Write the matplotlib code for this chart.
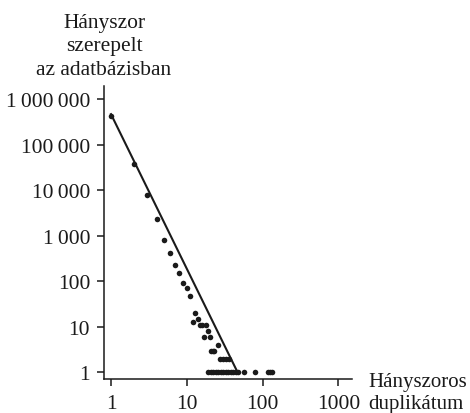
import matplotlib
matplotlib.use("Agg")
import matplotlib.pyplot as plt
import numpy as np

# how many times a record is duplicated -> how many records had that count
dup_x = [1, 2, 3, 4, 5, 6, 7, 8, 9, 10, 11,
         12, 13, 14, 15, 16, 18, 17, 20, 19,
         21, 22, 23, 26, 27, 30, 33, 36,
         19, 21, 22, 24, 26, 28, 30, 33, 35, 38, 41, 45, 47, 57, 79, 118, 127, 133]
dup_y = [440000, 38000, 8000, 2300, 820, 420, 230, 150, 90, 70, 48,
         13, 20, 15, 11, 11, 11, 6, 6, 8,
         3, 3, 3, 4, 2, 2, 2, 2,
         1, 1, 1, 1, 1, 1, 1, 1, 1, 1, 1, 1, 1, 1, 1, 1, 1, 1]

# power-law fit drawn as a straight line
fit_c = 475000
fit_k = -3.4
fit_x = [1, 46]

x_ticks = [1, 10, 100, 1000]
x_ticklabels = ["1", "10", "100", "1000"]
y_ticks = [1, 10, 100, 1000, 10000, 100000, 1000000]
y_ticklabels = ["1", "10", "100", "1\u2009000", "10\u2009000", "100\u2009000", "1\u2009000\u2009000"]

plt.rcParams["font.family"] = ["Liberation Serif", "DejaVu Serif"]
plt.rcParams["font.size"] = 15.5

fig = plt.figure(figsize=(4.7, 4.14), dpi=100)
ax = fig.add_axes([0.2213, 0.0814, 0.527, 0.709])

fx = np.array(fit_x, dtype=float)
ax.plot(fx, fit_c * fx ** fit_k, color="#1a1a1a", lw=1.5, zorder=2)
ax.plot(dup_x, dup_y, "o", color="#1a1a1a", ms=4.0, mew=0, zorder=3)

ax.set_xscale("log")
ax.set_yscale("log")
ax.set_xlim(0.809, 1496)
ax.set_ylim(0.70, 2.0e6)

ax.set_xticks(x_ticks)
ax.set_xticklabels(x_ticklabels)
ax.set_yticks(y_ticks)
ax.set_yticklabels(y_ticklabels)
ax.minorticks_off()

for s in ["top", "right"]:
    ax.spines[s].set_visible(False)
for s in ["left", "bottom"]:
    ax.spines[s].set_linewidth(1.1)
    ax.spines[s].set_color("#1a1a1a")
ax.tick_params(axis="both", length=5, width=1.1, color="#1a1a1a", labelcolor="#1a1a1a")
ax.tick_params(axis="y", pad=5)
ax.tick_params(axis="x", pad=5.5)

fig.text(104 / 470, 1 - 14 / 414, "Hányszor\nszerepelt\naz adatbázisban",
         ha="center", va="top", multialignment="center", linespacing=1.32, color="#1a1a1a")
fig.text(368 / 470, 1 - 373 / 414, "Hányszoros\nduplikátum", fontsize=15,
         ha="left", va="top", linespacing=1.25, color="#1a1a1a")

fig.savefig("out.png", dpi=100)
